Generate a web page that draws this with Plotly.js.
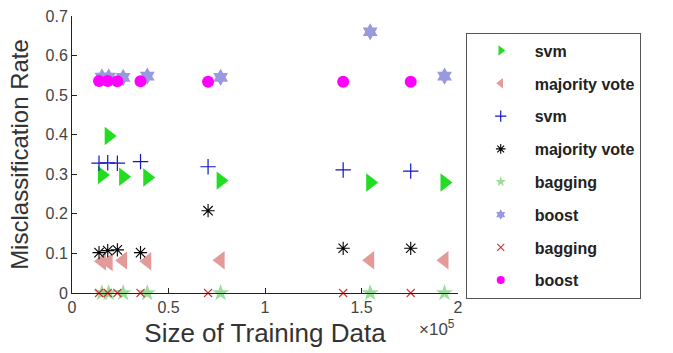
<!DOCTYPE html>
<html>
<head>
<meta charset="utf-8">
<script src="https://cdn.plot.ly/plotly-3.0.1.min.js"></script>
<style>html,body{margin:0;padding:0;background:#fff;}#chart{width:673px;height:353px;}</style>
</head>
<body>
<div id="chart"></div>
<script>
// Training sizes for the two groups of runs
const sizesA = [15500, 19000, 26500, 39000, 77000, 154500, 193000];
const sizesB = [14000, 18500, 23500, 35500, 70500, 140500, 175500];

// Group A (filled markers)
const svmA      = [0.298, 0.397, 0.294, 0.292, 0.284, 0.279, 0.279];
const majorityA = [0.080, 0.078, 0.082, 0.080, 0.083, 0.083, 0.083];
const baggingA  = [0, 0, 0, 0, 0, 0, 0];
const boostA    = [0.546, 0.546, 0.545, 0.548, 0.545, 0.660, 0.548];

// Group B
const svmB      = [0.328, 0.329, 0.328, 0.332, 0.319, 0.311, 0.308];
const majorityB = [0.102, 0.107, 0.109, 0.102, 0.208, 0.113, 0.113];
const baggingB  = [0, 0, 0, 0, 0, 0, 0];
const boostB    = [0.536, 0.536, 0.535, 0.535, 0.534, 0.534, 0.534];

const seriesNames = ['svm', 'majority vote', 'svm', 'majority vote', 'bagging', 'boost', 'bagging', 'boost'];

const xTickVals = [0, 50000, 100000, 150000, 200000];
const xTickText = ['0', '0.5', '1', '1.5', '2'];
const yTickVals = [0, 0.1, 0.2, 0.3, 0.4, 0.5, 0.6, 0.7];
const yTickText = ['0', '0.1', '0.2', '0.3', '0.4', '0.5', '0.6', '0.7'];

const styles = [
  {symbol: 'triangle-right', color: '#22dd22', size: 16, lw: 0, ls: 9},
  {symbol: 'triangle-left', color: '#e59a9a', size: 16, lw: 0, ls: 9},
  {symbol: 'cross-thin-open', color: '#1414c8', size: 11, lw: 1.2, ls: 8},
  {symbol: 'asterisk-open', color: '#000000', size: 11, lw: 1.1, ls: 8},
  {symbol: 'star', color: '#99dd99', size: 13, lw: 0, ls: 8},
  {symbol: 'hexagram', color: '#9999dd', size: 13, lw: 0, ls: 8},
  {symbol: 'x-thin-open', color: '#cc3333', size: 8, lw: 1.1, ls: 7},
  {symbol: 'circle', color: '#ff00ff', size: 12, lw: 0, ls: 8}
];
const xs = [sizesA, sizesA, sizesB, sizesB, sizesA, sizesA, sizesB, sizesB];
const ys = [svmA, majorityA, svmB, majorityB, baggingA, boostA, baggingB, boostB];

const data = [];
// data traces
for (let i = 0; i < 8; i++) {
  const s = styles[i];
  data.push({
    type: 'scatter', mode: 'markers', name: seriesNames[i], x: xs[i], y: ys[i],
    showlegend: false, cliponaxis: false,
    marker: {symbol: s.symbol, color: s.color, size: s.size, line: {color: s.color, width: s.lw}}
  });
}
// legend entries (small markers like the original legend)
for (let i = 0; i < 8; i++) {
  const s = styles[i];
  data.push({
    type: 'scatter', mode: 'markers', name: seriesNames[i], x: [null], y: [null],
    showlegend: true, legendgroup: 'g' + i,
    marker: {symbol: s.symbol, color: s.color, size: s.ls, line: {color: s.color, width: s.lw}}
  });
}

const layout = {
  width: 673, height: 353,
  margin: {l: 72, r: 215, t: 16, b: 60},
  paper_bgcolor: '#fff', plot_bgcolor: '#fff',
  font: {family: 'Liberation Sans, Arial, sans-serif', color: '#333'},
  showlegend: true,
  legend: {
    x: 1.02, xanchor: 'left', y: 0.94, yanchor: 'top',
    bordercolor: '#555', borderwidth: 1, bgcolor: '#fff',
    font: {size: 16, color: '#222', family: 'Liberation Sans, Arial, sans-serif', weight: 'bold'},
    itemwidth: 58, tracegroupgap: 9
  },
  xaxis: {
    range: [0, 200000], tickvals: xTickVals, ticktext: xTickText,
    showline: true, linecolor: '#222', linewidth: 1, mirror: false,
    ticks: 'inside', ticklen: 5, tickcolor: '#222', showgrid: false, zeroline: false,
    tickfont: {size: 16, color: '#444'},
    title: {text: 'Size of Training Data', font: {size: 26, color: '#333'}, standoff: 8}
  },
  yaxis: {
    range: [0, 0.7], tickvals: yTickVals, ticktext: yTickText,
    showline: true, linecolor: '#222', linewidth: 1, mirror: false,
    ticks: 'inside', ticklen: 5, tickcolor: '#222', showgrid: false, zeroline: false,
    tickfont: {size: 16, color: '#444'},
    title: {text: 'Misclassification Rate', font: {size: 24, color: '#333'}, standoff: 10}
  },
  annotations: [{
    text: '×10<sup>5</sup>', xref: 'paper', yref: 'paper', x: 0.998, y: -0.078,
    xanchor: 'right', yanchor: 'top', showarrow: false, font: {size: 17, color: '#444'}
  }]
};

Plotly.newPlot('chart', data, layout, {displayModeBar: false, staticPlot: true});
</script>
</body>
</html>
